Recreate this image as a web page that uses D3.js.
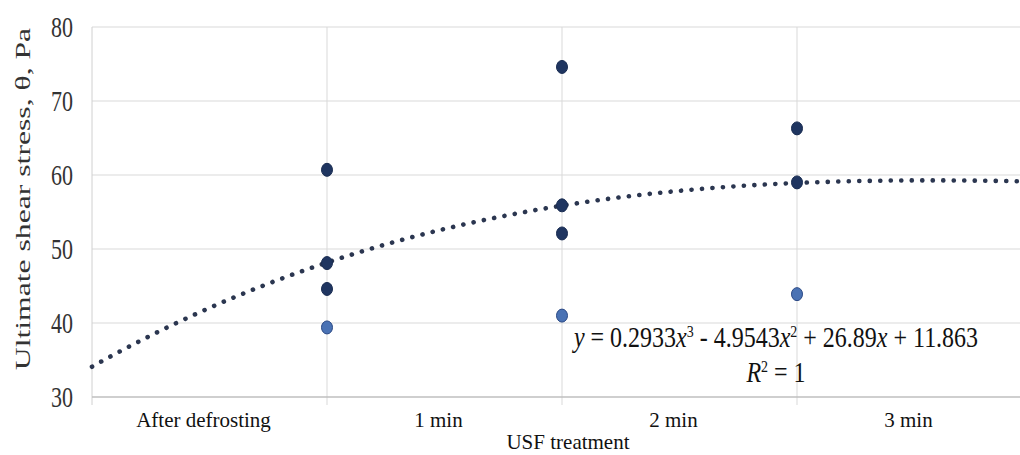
<!DOCTYPE html>
<html><head><meta charset="utf-8">
<script src="https://cdn.jsdelivr.net/npm/d3@7"></script>
<style>body{margin:0;background:#fff}svg{display:block}</style>
</head><body><svg id="c" width="1020" height="455"></svg>
<script>
// Data
const categories = ["After defrosting", "1 min", "2 min", "3 min"];
const pointX = [2, 3, 4];
const meanValues = [48.1, 55.9, 59.0];
const maxValues = [60.7, 74.6, 66.3];
const midValues = [44.6, 52.1, null];
const minValues = [39.4, 41.0, 43.9];
const yTicks = [30, 40, 50, 60, 70, 80];
const trendCoef = [0.2933, -4.9543, 26.89, 11.863]; // x^3, x^2, x, c
const xLabel = "USF treatment";
const yLabel = "Ultimate shear stress, θ, Pa";

const FONT = "Liberation Serif, DejaVu Serif, serif";
const svg = d3.select("#c").style("font-family", FONT);
const x = d3.scaleLinear().domain([1, 5]).range([92, 1032]);
const y = d3.scaleLinear().domain([30, 80]).range([397, 27]);

// grid
const g = svg.append("g");
g.selectAll("line.h").data(yTicks.filter(d => d > 30)).join("line")
  .attr("x1", x(1)).attr("x2", 1020).attr("y1", d => y(d)).attr("y2", d => y(d))
  .attr("stroke", "#d9d9d9").attr("stroke-width", 1);
g.selectAll("line.v").data(pointX).join("line")
  .attr("x1", d => x(d)).attr("x2", d => x(d)).attr("y1", y(80)).attr("y2", y(30) + 8)
  .attr("stroke", "#d9d9d9").attr("stroke-width", 1);
g.append("line").attr("x1", x(1)).attr("x2", x(1)).attr("y1", y(80)).attr("y2", y(30) + 8)
  .attr("stroke", "#d0d0d0");
g.append("line").attr("x1", x(1)).attr("x2", 1020).attr("y1", y(30)).attr("y2", y(30))
  .attr("stroke", "#bfbfbf").attr("stroke-width", 1.5);

// y tick labels
svg.append("g").selectAll("text").data(yTicks).join("text")
  .attr("transform", d => `translate(73,${y(d)}) scale(1,1.3)`)
  .attr("text-anchor", "end").attr("dy", "0.35em")
  .style("font-family", FONT).attr("font-size", 22).attr("fill", "#333").text(d => d);

// y label
svg.append("text")
  .attr("transform", `translate(30,199) rotate(-90) scale(1.44,1)`)
  .attr("text-anchor", "middle").style("font-family", FONT).attr("font-size", 22).attr("fill", "#333")
  .text(yLabel);

// x category labels
svg.append("g").selectAll("text").data(categories).join("text")
  .attr("x", (d, i) => x(i + 1.5) - 6).attr("y", 427)
  .attr("text-anchor", "middle").style("font-family", FONT).attr("font-size", 21).attr("fill", "#111").text(d => d);
svg.append("text").attr("x", 568).attr("y", 449).attr("text-anchor", "middle")
  .style("font-family", FONT).attr("font-size", 21).attr("fill", "#111").text(xLabel);

// trendline (polynomial shown on the chart)
const poly = t => trendCoef[0] * t * t * t + trendCoef[1] * t * t + trendCoef[2] * t + trendCoef[3];
const tx = d3.range(1, 5.0001, 0.02);
svg.append("path").datum(tx)
  .attr("d", d3.line().x(d => x(d)).y(d => y(poly(d))))
  .attr("fill", "none").attr("stroke", "#2b3650").attr("stroke-width", 4.6)
  .attr("stroke-linecap", "round").attr("stroke-dasharray", "0.1 10.4");

// points
function drawPts(vals, fill, stroke) {
  svg.append("g").selectAll("ellipse").data(pointX.map((d, i) => [d, vals[i]]).filter(d => d[1] != null))
    .join("ellipse").attr("cx", d => x(d[0])).attr("cy", d => y(d[1]))
    .attr("rx", 5.5).attr("ry", 6.5).attr("fill", fill).attr("stroke", stroke).attr("stroke-width", 1);
}
drawPts(minValues, "#4a72b4", "#2c4a86");
drawPts(midValues, "#1f3560", "#1a2d52");
drawPts(maxValues, "#1f3560", "#1a2d52");
drawPts(meanValues, "#1f3560", "#1a2d52");

// equation
const eq = svg.append("text").attr("transform", "translate(776,347) scale(1,1.25)")
  .attr("text-anchor", "middle").style("font-family", FONT).attr("font-size", 24).attr("fill", "#111");
eq.append("tspan").attr("font-style", "italic").text("y");
eq.append("tspan").text(" = 0.2933");
eq.append("tspan").attr("font-style", "italic").text("x");
eq.append("tspan").attr("dy", -8).attr("font-size", 14).text("3");
eq.append("tspan").attr("dy", 8).text(" - 4.9543");
eq.append("tspan").attr("font-style", "italic").text("x");
eq.append("tspan").attr("dy", -8).attr("font-size", 14).text("2");
eq.append("tspan").attr("dy", 8).text(" + 26.89");
eq.append("tspan").attr("font-style", "italic").text("x");
eq.append("tspan").text(" + 11.863");
const r2 = svg.append("text").attr("transform", "translate(776,382) scale(1,1.25)")
  .attr("text-anchor", "middle").style("font-family", FONT).attr("font-size", 24).attr("fill", "#111");
r2.append("tspan").attr("font-style", "italic").text("R");
r2.append("tspan").attr("dy", -8).attr("font-size", 14).text("2");
r2.append("tspan").attr("dy", 8).text(" = 1");
</script></body></html>
